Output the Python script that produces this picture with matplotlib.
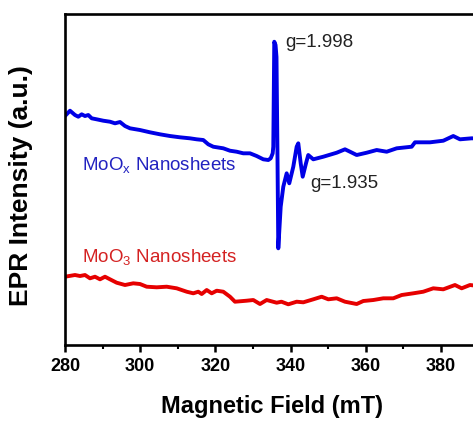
import matplotlib
matplotlib.use("Agg")
import matplotlib.pyplot as plt

plt.rcParams['font.family'] = ['Liberation Sans', 'DejaVu Sans']
plt.rcParams['mathtext.fontset'] = 'custom'
plt.rcParams['mathtext.rm'] = 'Liberation Sans'

# EPR spectrum of MoOx nanosheets (field in mT, intensity in a.u.)
field_moox = [280.0, 281.33, 282.66, 283.54, 284.44, 285.32, 286.20, 287.10, 288.43, 290.19,
              291.97, 293.30, 294.63, 295.96, 297.29, 299.95, 302.61, 305.27, 307.93, 310.59,
              313.24, 315.03, 316.78, 318.11, 319.44, 322.10, 323.88, 325.66, 327.42, 329.20,
              330.98, 332.74, 334.07, 334.71, 335.24, 335.40, 335.66, 336.0, 336.25, 336.5,
              336.73, 337.37, 338.06, 338.96, 339.65, 340.72, 341.62, 342.05, 342.69, 343.22,
              344.10, 344.70, 346.04, 348.70, 352.26, 354.47, 355.80, 357.58, 360.24, 362.90,
              365.56, 368.22, 372.21, 373.09, 377.08, 380.61, 383.27, 385.05, 388.16, 390.0]
int_moox = [229.0, 234.3, 230.0, 228.3, 230.7, 229.0, 230.0, 226.7, 225.7, 224.3,
            223.3, 221.7, 223.0, 219.0, 216.7, 215.0, 212.7, 210.7, 209.0, 207.7,
            206.7, 205.7, 205.0, 200.7, 198.3, 196.7, 194.3, 193.3, 191.7, 191.7,
            189.0, 185.7, 185.0, 186.7, 191.7, 198.3, 303.3, 300.0, 288.0, 195.0,
            96.7, 138.3, 158.3, 171.7, 161.7, 178.3, 198.3, 201.7, 181.7, 168.3,
            181.7, 190.0, 185.7, 188.3, 192.3, 195.7, 193.3, 190.0, 192.3, 195.0,
            193.3, 196.7, 198.3, 202.7, 202.7, 204.3, 209.0, 205.7, 206.7, 206.5]

# EPR spectrum of MoO3 nanosheets
field_moo3 = [280.0, 282.66, 283.99, 285.32, 286.65, 287.98, 289.31, 290.64, 291.97, 293.75,
              295.96, 298.16, 299.95, 301.73, 304.39, 307.05, 309.71, 312.37, 314.12, 315.45,
              316.36, 317.69, 319.02, 320.35, 322.10, 323.88, 325.21, 328.32, 330.08, 331.86,
              333.64, 336.30, 337.57, 339.39, 341.62, 343.38, 346.04, 348.27, 350.03, 352.26,
              354.47, 357.58, 359.34, 362.00, 364.65, 367.31, 369.55, 372.63, 375.29, 377.95,
              380.61, 383.72, 385.50, 387.71, 390.0]
int_moo3 = [68.3, 70.0, 69.0, 70.0, 66.7, 68.3, 65.7, 68.3, 65.7, 62.3,
            60.0, 61.7, 61.0, 58.3, 57.7, 58.3, 56.7, 53.3, 51.7, 53.3,
            51.0, 55.0, 51.7, 54.3, 53.3, 48.3, 43.3, 44.3, 45.0, 41.0,
            45.0, 42.3, 43.3, 40.7, 43.3, 42.7, 45.7, 48.3, 45.7, 46.7,
            43.3, 41.0, 44.0, 45.0, 46.7, 46.7, 50.0, 51.7, 53.3, 56.7,
            55.7, 60.0, 56.7, 60.0, 59.0]

x_ticks = [280, 300, 320, 340, 360, 380]
x_minor = [290, 310, 330, 350, 370, 390]

fig = plt.figure(figsize=(4.73, 4.21), dpi=100)
ax = fig.add_axes([0.1374, 0.1805, 0.8744, 0.7862])

ax.plot(field_moox, int_moox, color='#0000e6', lw=2.8, solid_joinstyle='round')
ax.plot(field_moo3, int_moo3, color='#e60000', lw=2.8, solid_joinstyle='round')

ax.set_xlim(280, 390)
ax.set_ylim(0, 331)
ax.set_xticks(x_ticks)
ax.set_xticklabels([str(t) for t in x_ticks], fontweight='bold', fontsize=13)
ax.set_xticks(x_minor, minor=True)
ax.set_yticks([])
ax.tick_params(axis='x', which='major', direction='out', length=5, width=1.8, pad=4)
ax.tick_params(axis='x', which='minor', direction='out', length=3, width=1.5)
for s in ax.spines.values():
    s.set_linewidth(1.9)

ax.set_xlabel('Magnetic Field (mT)', fontsize=17, fontweight='bold', labelpad=15)
ax.set_ylabel('EPR Intensity (a.u.)', fontsize=19, fontweight='bold')
ax.yaxis.set_label_coords(-0.077, 0.483)

ax.text(338.5, 303, 'g=1.998', fontsize=13.5, color='#222222', va='center', ha='left')
ax.text(345.1, 162, 'g=1.935', fontsize=13.5, color='#222222', va='center', ha='left')
ax.text(284.4, 180, r'MoO$\mathregular{_x}$ Nanosheets', fontsize=13.5, color='#2222c0',
        va='center', ha='left')
ax.text(284.4, 88, r'MoO$\mathregular{_3}$ Nanosheets', fontsize=13.5, color='#d42222',
        va='center', ha='left')

fig.savefig('out.png', dpi=100)
